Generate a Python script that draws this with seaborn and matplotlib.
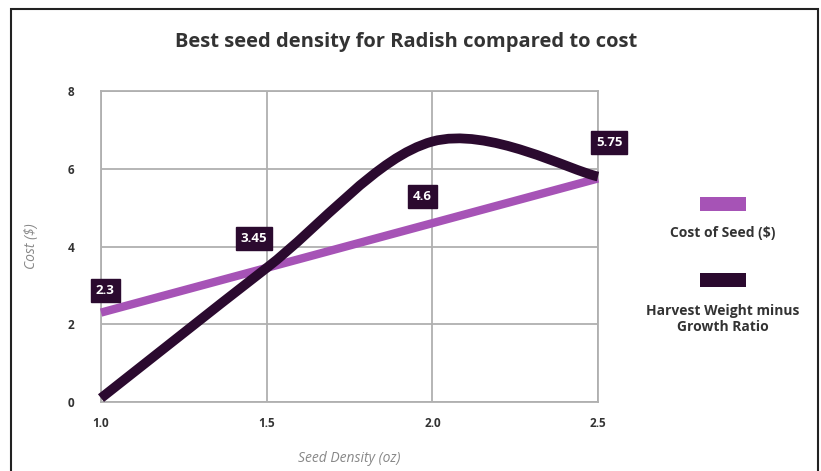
import matplotlib
matplotlib.use("Agg")
import matplotlib.pyplot as plt
from matplotlib.path import Path
from matplotlib.patches import PathPatch, Rectangle
import numpy as np
import pandas as pd
import seaborn as sns

# Data
seed_density = [1.0, 1.5, 2.0, 2.5]
cost_of_seed = [2.3, 3.45, 4.6, 5.75]
harvest_minus_growth = [0.1, 3.45, 6.7, 5.8]
x_ticks = [1.0, 1.5, 2.0, 2.5]
y_ticks = [0, 2, 4, 6, 8]

PURPLE = "#a653b6"
DARK = "#2b0a2f"
GRID = "#b0b0b0"
TEXT = "#333333"

sns.set_theme(style="whitegrid")
plt.rcParams["font.family"] = ["Open Sans", "DejaVu Sans"]

fig = plt.figure(figsize=(8.21, 4.71), dpi=100)
ax = fig.add_axes([101 / 821, 1 - 402 / 471, 497 / 821, 311 / 471])

df = pd.DataFrame({"density": seed_density, "cost": cost_of_seed})
sns.lineplot(data=df, x="density", y="cost", ax=ax, color=PURPLE,
             linewidth=6.0, solid_capstyle="butt", zorder=3, clip_on=False)


def smooth_path(xs, ys):
    """Cubic Bezier path through the points (Catmull-Rom style smoothing)."""
    pts = np.column_stack([xs, ys]).astype(float)
    n = len(pts)
    verts = [pts[0]]
    codes = [Path.MOVETO]
    for i in range(n - 1):
        p0 = pts[i - 1] if i > 0 else pts[i]
        p1 = pts[i]
        p2 = pts[i + 1]
        p3 = pts[i + 2] if i + 2 < n else pts[i + 1]
        c1 = p1 + (p2 - p0) / 6.0
        c2 = p2 - (p3 - p1) / 6.0
        verts += [c1, c2, p2]
        codes += [Path.CURVE4] * 3
    return Path(verts, codes)


ax.add_patch(PathPatch(smooth_path(seed_density, harvest_minus_growth),
                       fill=False, edgecolor=DARK, linewidth=7.0,
                       capstyle="butt", joinstyle="round", zorder=4,
                       clip_on=False, transform=ax.transData))

# Value labels on the cost series
label_offsets = [(3, 16), (-9, 21), (-7, 19), (8, 26)]
for x, y, (dx, dy) in zip(seed_density, cost_of_seed, label_offsets):
    ax.annotate(f"{y:g}", xy=(x, y), xytext=(dx, dy), textcoords="offset points",
                ha="center", va="center", color="white", fontsize=9.5,
                fontweight="bold", zorder=6,
                bbox=dict(boxstyle="square,pad=0.38", fc=DARK, ec=DARK))

ax.set_xlim(1.0, 2.5)
ax.set_ylim(0, 8)
ax.set_xticks(x_ticks)
ax.set_xticklabels([f"{v:.1f}" for v in x_ticks])
ax.set_yticks(y_ticks)
ax.grid(True, color=GRID, linewidth=1.3)
for s in ax.spines.values():
    s.set_visible(True)
    s.set_color(GRID)
    s.set_linewidth(1.3)
ax.tick_params(axis="y", pad=19, labelsize=8.5, labelcolor=TEXT, length=0)
ax.tick_params(axis="x", pad=11, labelsize=8.5, labelcolor=TEXT, length=0)
for lbl in ax.get_xticklabels() + ax.get_yticklabels():
    lbl.set_fontweight("bold")

ax.set_xlabel("Seed Density (oz)", fontsize=10, style="italic", color="#888888",
              labelpad=15)
ax.set_ylabel("Cost ($)", fontsize=10, style="italic", color="#888888",
              labelpad=21)

fig.text(406 / 821, 1 - 42 / 471, "Best seed density for Radish compared to cost",
         ha="center", va="center", fontsize=14.5, fontweight="bold", color=TEXT)

# Legend: swatch above each series name
legend_items = [("Cost of Seed ($)", PURPLE, 204, 233),
                ("Harvest Weight minus\nGrowth Ratio", DARK, 280, 319)]
for name, col, sy, ty in legend_items:
    fig.add_artist(Rectangle((700 / 821, 1 - (sy + 7) / 471), 46 / 821, 14 / 471,
                             transform=fig.transFigure, fc=col, ec="none"))
    fig.text(723 / 821, 1 - ty / 471, name, ha="center", va="center",
             fontsize=10, fontweight="bold", color=TEXT, linespacing=1.25)

# Outer frame
fig.add_artist(Rectangle((11 / 821, -0.05), 807 / 821, 1 - 9 / 471 + 0.05,
                         transform=fig.transFigure, fill=False, ec="#222222",
                         lw=1.5))

fig.savefig("out.png", dpi=100)
